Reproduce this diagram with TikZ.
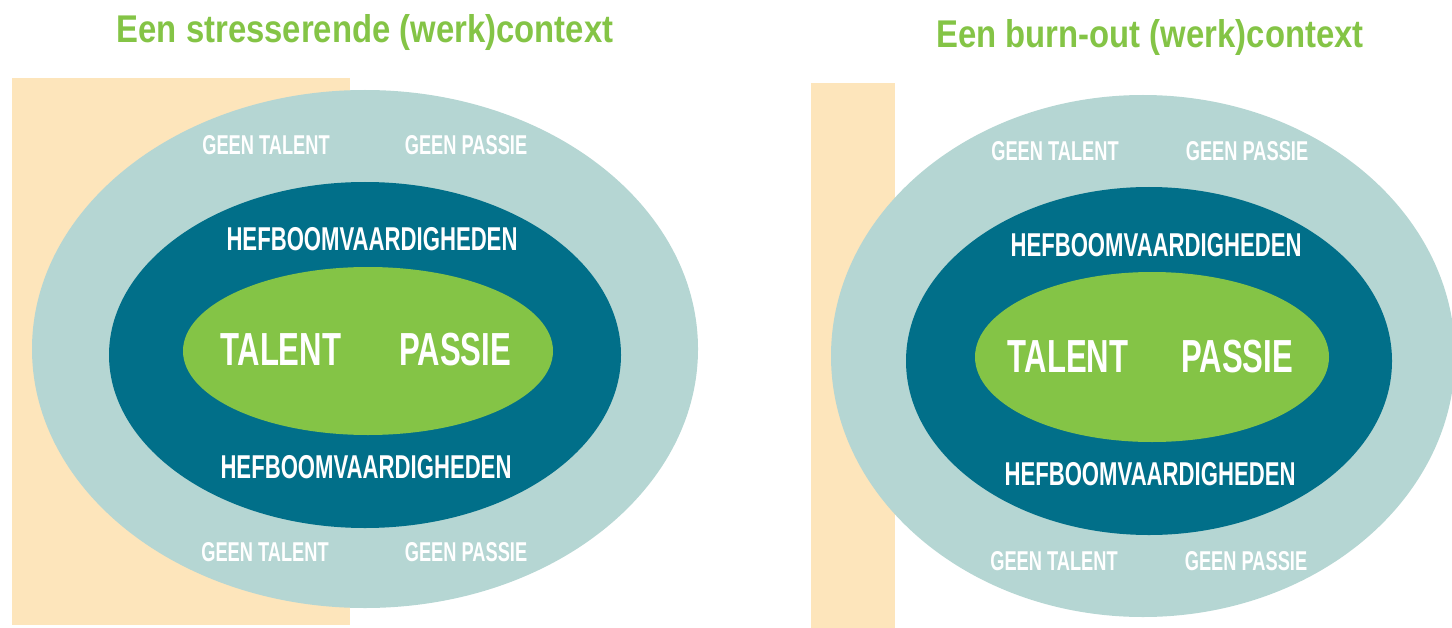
\documentclass[tikz,border=0pt]{standalone}
\usepackage{fontspec}
\setmainfont{Liberation Sans}
\newfontfamily\smalcond[FakeStretch=0.67]{Liberation Sans}
\newfontfamily\titelcond[FakeStretch=0.85]{Liberation Sans}

\definecolor{zandgeel}{HTML}{FDE5BB}
\definecolor{lichtblauw}{HTML}{B5D6D3}
\definecolor{petrol}{HTML}{016F89}
\definecolor{grasgroen}{HTML}{84C446}

\tikzset{
	titel/.style={anchor=base, inner sep=0pt, text=grasgroen, font=\titelcond\bfseries\fontsize{22}{26}\selectfont},
	klein/.style={inner sep=0pt, text=white, font=\smalcond\bfseries\fontsize{15.5}{17}\selectfont},
	middel/.style={inner sep=0pt, text=white, font=\smalcond\bfseries\fontsize{18.8}{21}\selectfont},
	groot/.style={inner sep=0pt, text=white, font=\smalcond\bfseries\fontsize{26.4}{30}\selectfont}
}

\begin{document}
\begin{tikzpicture}[x=0.02cm, y=-0.02cm]
		\useasboundingbox (0,0) rectangle (1452,628);
		
		% Links: stresserende context
		\fill[zandgeel] (11.5,78) rectangle (350,625);
		\fill[lichtblauw] (365,349) ellipse [x radius=333, y radius=259];
		\fill[petrol] (365,355) ellipse [x radius=256, y radius=173];
		\fill[grasgroen] (368,351) ellipse [x radius=185, y radius=84];
		
		\node[titel] (titelL) at (365,43) {Een stresserende (werk)context};
		\node[klein] (gtLb) at (266,145) {GEEN TALENT};
		\node[klein] (gpLb) at (466,145) {GEEN PASSIE};
		\node[middel] (hefLb) at (372,239) {HEFBOOMVAARDIGHEDEN};
		\node[groot] (talL) at (281,350) {TALENT};
		\node[groot] (pasL) at (455,350) {PASSIE};
		\node[middel] (hefLo) at (366,467) {HEFBOOMVAARDIGHEDEN};
		\node[klein] (gtLo) at (265,552) {GEEN TALENT};
		\node[klein] (gpLo) at (466,552) {GEEN PASSIE};
		
		% Rechts: burn-out context
		\fill[zandgeel] (811,83) rectangle (895,628);
		\fill[lichtblauw] (1143,356) ellipse [x radius=312, y radius=261];
		\fill[petrol] (1149,361) ellipse [x radius=243, y radius=174];
		\fill[grasgroen] (1152,357) ellipse [x radius=177, y radius=85];
		
		\node[titel] (titelR) at (1150,48) {Een burn-out (werk)context};
		\node[klein] (gtRb) at (1055,151) {GEEN TALENT};
		\node[klein] (gpRb) at (1247,151) {GEEN PASSIE};
		\node[middel] (hefRb) at (1156,245) {HEFBOOMVAARDIGHEDEN};
		\node[groot] (talR) at (1068,357) {TALENT};
		\node[groot] (pasR) at (1237,357) {PASSIE};
		\node[middel] (hefRo) at (1150,474) {HEFBOOMVAARDIGHEDEN};
		\node[klein] (gtRo) at (1054,561) {GEEN TALENT};
		\node[klein] (gpRo) at (1246,561) {GEEN PASSIE};
	\end{tikzpicture}
\end{document}
